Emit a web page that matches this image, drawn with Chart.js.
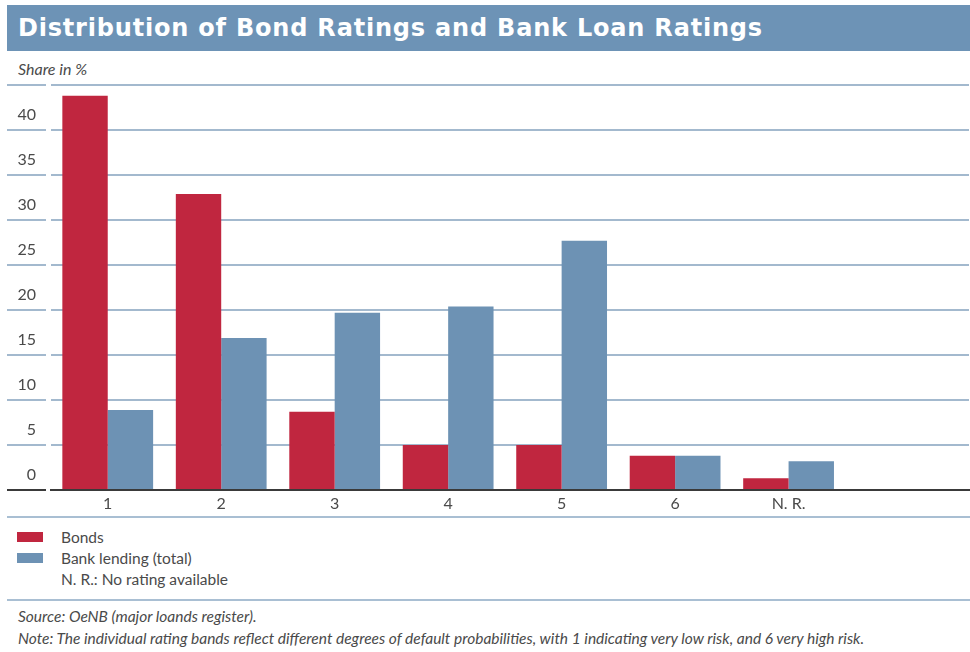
<!DOCTYPE html>
<html>
<head>
<meta charset="utf-8">
<script src="https://cdn.jsdelivr.net/npm/chart.js@4.4.1/dist/chart.umd.min.js"></script>
<style>
  body { margin: 0; width: 970px; height: 652px; background: #fff; position: relative; overflow: hidden;
         font-family: Lato, "Open Sans", sans-serif; color: #4a4a4a; }
  .title { position: absolute; left: 7px; top: 5px; width: 963px; height: 46px; background: #6d93b6;
           color: #fff; font: bold 24px "DejaVu Sans", sans-serif; line-height: 46px; padding-left: 11px;
           box-sizing: border-box; letter-spacing: 0.8px; white-space: nowrap; }
  .unit { position: absolute; left: 18px; top: 59px; font-style: italic; font-size: 16px; line-height: 20px; }
  #wrap { position: absolute; left: 0; top: 75px; width: 970px; height: 440px; }
  .rule { position: absolute; left: 7px; width: 963px; height: 2px; background: #a9bfd3; }
  #legend { position: absolute; left: 17px; top: 527px; font-size: 15.5px; }
  .row { height: 21px; line-height: 21px; position: relative; padding-left: 44px; white-space: nowrap; }
  .box { position: absolute; left: 0; top: 5px; width: 26px; height: 10px; }
  .notes { position: absolute; left: 18px; top: 605px; font-style: italic; font-size: 15.5px; line-height: 22px; white-space: nowrap; }
</style>
</head>
<body>
<div class="title">Distribution of Bond Ratings and Bank Loan Ratings</div>
<div class="unit">Share in %</div>
<div id="wrap"><canvas id="barChart"></canvas></div>
<div class="rule" style="top:516px"></div>
<div id="legend"></div>
<div class="rule" style="top:599px"></div>
<div class="notes">
  <div>Source: OeNB (major loands register).</div>
  <div>Note: The individual rating bands reflect different degrees of default probabilities, with 1 indicating very low risk, and 6 very high risk.</div>
</div>
<script>
// ==== DATA ====
const categories = ["1", "2", "3", "4", "5", "6", "N. R."];
const bonds = [43.8, 32.9, 8.7, 5.0, 5.0, 3.8, 1.3];
const bankLending = [8.9, 16.9, 19.7, 20.4, 27.7, 3.8, 3.2];
const seriesNames = ["Bonds", "Bank lending (total)"];
const seriesColors = ["#c0263f", "#6d92b4"];
const legendNote = "N. R.: No rating available";
const yMax = 45;
const yStep = 5;

const gridBlue = "#a3b9ce";
const axisDark = "#3a3a3a";
const tickFont = { family: "Lato, 'Open Sans', sans-serif", size: 16 };

// categories sit at 1..n on a linear x axis, so the plot can run on past the last group
function toPoints(values) {
  return values.map((v, i) => ({ x: i + 1, y: v }));
}

document.addEventListener("DOMContentLoaded", function () {
  // ==== LEGEND ====
  const legendEl = document.getElementById("legend");
  seriesNames.forEach((name, i) => {
    const row = document.createElement("div");
    row.className = "row";
    row.innerHTML = `<span class="box" style="background:${seriesColors[i]}"></span>${name}`;
    legendEl.appendChild(row);
  });
  const noteRow = document.createElement("div");
  noteRow.className = "row";
  noteRow.textContent = legendNote;
  legendEl.appendChild(noteRow);

  // ==== BAR CHART ====
  const ctx = document.getElementById("barChart").getContext("2d");
  new Chart(ctx, {
    type: "bar",
    data: {
      datasets: [
        { label: seriesNames[0], data: toPoints(bonds), backgroundColor: seriesColors[0] },
        { label: seriesNames[1], data: toPoints(bankLending), backgroundColor: seriesColors[1] },
      ],
    },
    options: {
      responsive: true,
      maintainAspectRatio: false,
      animation: false,
      categoryPercentage: 0.8,
      barPercentage: 1.0,
      layout: { padding: { left: 8, right: 1, top: 10, bottom: 0 } },
      plugins: {
        legend: { display: false },
        tooltip: { enabled: false },
      },
      scales: {
        x: {
          type: "linear",
          min: 0.5,
          max: 8.59,
          bounds: "data",
          offset: false,
          grid: { display: false, drawTicks: false, offset: false },
          border: { display: true, color: axisDark, width: 2 },
          afterBuildTicks: (s) => {
            s.ticks = categories.map((_, i) => ({ value: i + 1 }));
          },
          ticks: {
            autoSkip: false,
            maxRotation: 0,
            padding: 4,
            color: "#4a4a4a",
            font: tickFont,
            callback: (v) => categories[Math.round(v) - 1] || "",
          },
          afterFit: (s) => {
            s.height = 25;
            s.paddingLeft = 0;
            s.paddingRight = 0;
          },
        },
        y: {
          min: 0,
          max: yMax,
          border: { display: false },
          grid: {
            color: (c) => (c.tick && c.tick.value === 0 ? axisDark : gridBlue),
            lineWidth: 2,
            tickLength: 44,
            tickBorderDash: [39, 5],
            tickBorderDashOffset: 0,
          },
          ticks: {
            stepSize: yStep,
            padding: -29,
            labelOffset: -15,
            color: "#4a4a4a",
            font: tickFont,
            callback: (v) => (v === yMax ? "" : v),
          },
          afterFit: (s) => {
            s.width = 43;
            s.paddingTop = 0;
            s.paddingBottom = 0;
          },
        },
      },
    },
  });
});
</script>
</body>
</html>
